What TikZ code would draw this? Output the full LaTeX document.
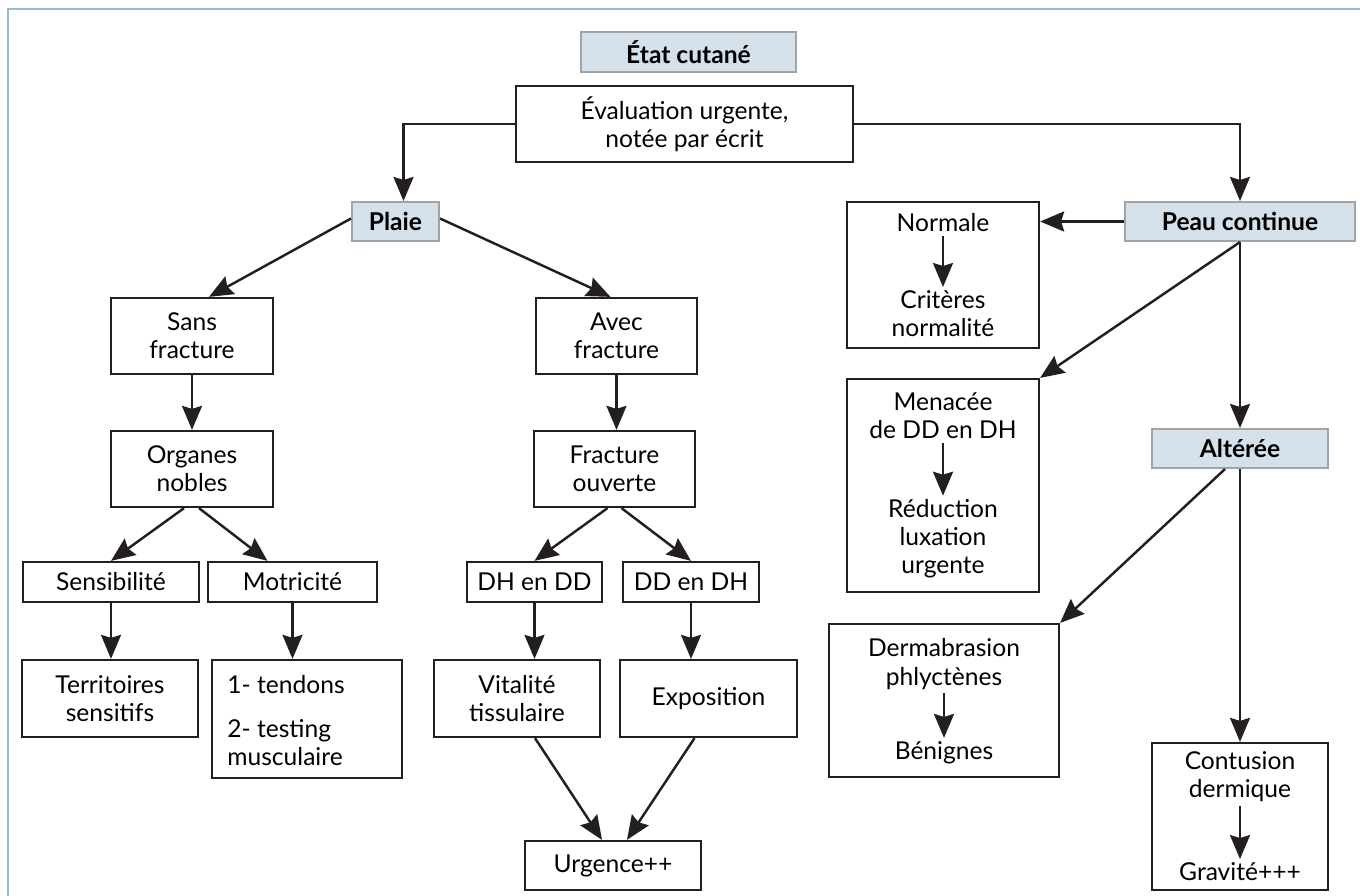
\documentclass[tikz,border=0pt]{standalone}
\usepackage{fontspec}
\setmainfont{Lato}
\usetikzlibrary{calc}
\usetikzlibrary{arrows.meta}

\definecolor{hdrfill}{HTML}{D4E1EA}
\definecolor{hdrline}{HTML}{A3A3A3}
\definecolor{framecol}{HTML}{9BBCCE}
\definecolor{ink}{HTML}{231F20}

\begin{document}
\begin{tikzpicture}[
                            x=0.02cm, y=-0.02cm,
                            font=\fontsize{14}{16}\selectfont,
                            box/.style={draw=ink, line width=1.3pt, inner sep=0pt, align=center},
                            hdr/.style={draw=hdrline, fill=hdrfill, line width=1.2pt, inner sep=0pt,
                                        font=\fontsize{14}{16}\selectfont\bfseries},
                            txt/.style={inner sep=2pt, align=center},
                            arr/.style={draw=ink, line width=1.4pt,
                                        -{Stealth[length=0.48cm, width=0.4cm, inset=0.06cm]}}
                            ]
                            \useasboundingbox (0,0) rectangle (1360,896);
                            \draw[framecol, line width=1.7pt] (1360,9) -- (8,9) -- (8,896);

                            % top
                            \node[hdr, minimum width=4.30cm, minimum height=0.80cm] (etat)    at (688.5,52)   {État cutané};
                            \node[box, minimum width=6.74cm, minimum height=1.52cm] (eval)    at (684.5,124)  {Évaluation urgente,\\notée par écrit};
                            \node[hdr, minimum width=1.74cm, minimum height=0.78cm] (plaie)   at (395.5,221.5) {Plaie};
                            \node[hdr, minimum width=4.60cm, minimum height=0.78cm] (peau)    at (1240,221.5) {Peau continue};

                            % plaie
                            \node[box, minimum width=3.24cm, minimum height=1.52cm] (sans)    at (192,336)    {Sans\\fracture};
                            \node[box, minimum width=3.22cm, minimum height=1.52cm] (avec)    at (616.5,336)  {Avec\\fracture};
                            \node[box, minimum width=3.24cm, minimum height=1.52cm] (organes) at (192,469)    {Organes\\nobles};
                            \node[box, minimum width=3.22cm, minimum height=1.52cm] (ouverte) at (614.5,469)  {Fracture\\ouverte};
                            \node[box, minimum width=3.52cm, minimum height=0.80cm] (sensib)  at (111,582)    {Sensibilité};
                            \node[box, minimum width=3.38cm, minimum height=0.80cm] (motri)   at (292.5,582)  {Motricité};
                            \node[box, minimum width=2.70cm, minimum height=0.80cm] (dhdd)    at (534.5,582)  {DH en DD};
                            \node[box, minimum width=2.72cm, minimum height=0.80cm] (dddh)    at (691,582)    {DD en DH};
                            \node[box, minimum width=3.52cm, minimum height=1.54cm] (territ)  at (110,698.5)  {Territoires\\sensitifs};
                            \node[box, minimum width=3.80cm, minimum height=2.36cm] (tendons) at (307,719)    {};
                            \node[anchor=west, align=left, inner sep=0pt] (tendtxt) at (227,721)
                                                                                {1- tendons\\[9pt]2- testing\\musculaire};
                            \node[box, minimum width=3.32cm, minimum height=1.54cm] (vital)   at (517,698.5)  {Vitalité\\tissulaire};
                            \node[box, minimum width=3.54cm, minimum height=1.54cm] (expo)    at (708.5,698.5) {Exposition};
                            \node[box, minimum width=3.52cm, minimum height=0.98cm] (urg)     at (613,865.5)  {Urgence++};

                            % peau continue
                            \node[box, minimum width=3.84cm, minimum height=2.92cm] (normbox) at (943,275)    {};
                            \node[txt] (normale)   at (943,223)  {Normale};
                            \node[txt] (criteres)  at (943,314)  {Critères\\normalité};
                            \node[box, minimum width=3.84cm, minimum height=4.26cm] (menbox)  at (943,485.5)  {};
                            \node[txt] (menacee)   at (943,416)  {Menacée\\de DD en DH};
                            \node[txt] (reduction) at (943,539)  {Réduction\\luxation\\urgente};
                            \node[hdr, minimum width=3.52cm, minimum height=0.78cm] (altere)  at (1240,448.5) {Altérée};
                            \node[box, minimum width=4.60cm, minimum height=3.06cm] (derma)   at (944,700.5)  {};
                            \node[txt] (dermtxt)   at (944,664)  {Dermabrasion\\phlyctènes};
                            \node[txt] (benignes)  at (944,753)  {Bénignes};
                            \node[box, minimum width=3.52cm, minimum height=2.94cm] (contbox) at (1240,816.5) {};
                            \node[txt] (conttxt)   at (1240,777) {Contusion\\dermique};
                            \node[txt] (gravite)   at (1240,872) {Gravité+++};

                            \draw[arr] (eval.west) -| ($(plaie.north)+(8,0)$);
                            \draw[arr] (eval.east) -| (peau.north);

                            \path ($(plaie.west)+(0,-3)$)   edge[arr]   ($(sans.north)+(17,0)$);
                            \path ($(plaie.east)+(0,-3)$)   edge[arr]   ($(avec.north)+(-6,0)$);
                            \path (sans.south)              edge[arr]   (organes.north);
                            \path (avec.south)              edge[arr]   (avec.south |- ouverte.north);
                            \path ($(organes.south)+(-8,0)$) edge[arr]  (sensib.north);
                            \path ($(organes.south)+(7,0)$) edge[arr]   ($(motri.north)+(-25,0)$);
                            \path ($(ouverte.south)+(-7,0)$) edge[arr]  (dhdd.north);
                            \path ($(ouverte.south)+(7,0)$) edge[arr]   (dddh.north);
                            \path (sensib.south)            edge[arr]   (sensib.south |- territ.north);
                            \path (motri.south)             edge[arr]   (motri.south |- tendons.north);
                            \path (dhdd.south)              edge[arr]   (dhdd.south |- vital.north);
                            \path (dddh.south)              edge[arr]   (dddh.south |- expo.north);
                            \path ($(vital.south)+(18,0)$)  edge[arr]   ($(urg.north)+(-11,0)$);
                            \path ($(expo.south)+(-14,0)$)  edge[arr]   ($(urg.north)+(14,0)$);

                            \path (peau.west)               edge[arr]   (peau.west -| normbox.east);
                            \path (peau.south)              edge[arr]   (menbox.north east);
                            \path (peau.south)              edge[arr]   (altere.north);
                            \path ($(altere.south)+(-15,0)$) edge[arr]  (derma.north east);
                            \path (altere.south)            edge[arr]   (contbox.north);

                            \path (normale)                 edge[arr]   (criteres);
                            \path (menacee)                 edge[arr]   (reduction);
                            \path (dermtxt)                 edge[arr]   (benignes);
                            \path (conttxt)                 edge[arr]   (gravite);
                        \end{tikzpicture}
\end{document}
